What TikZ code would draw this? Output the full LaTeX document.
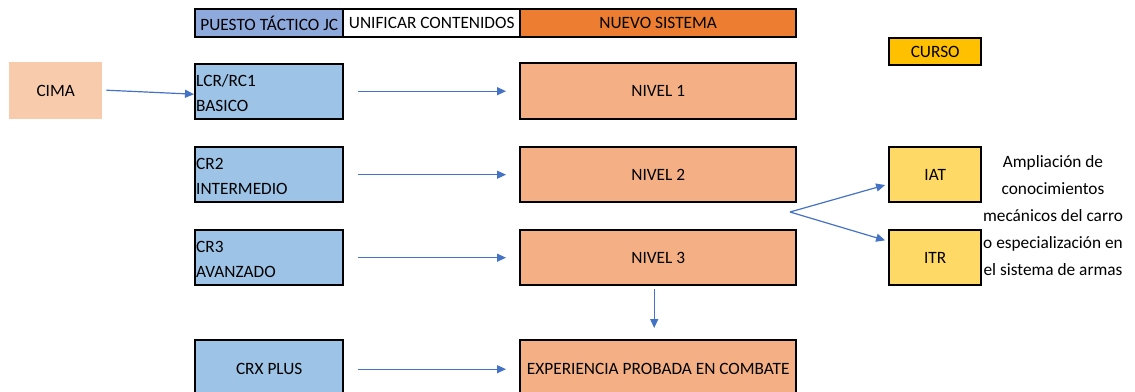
\documentclass[tikz,border=0pt]{standalone}
\usepackage{fontspec}
\setmainfont{Carlito}
\usetikzlibrary{arrows.meta,calc}
\definecolor{hdrblue}{HTML}{8EA9DB}
\definecolor{boxblue}{HTML}{9DC3E6}
\definecolor{hdrorange}{HTML}{ED7D31}
\definecolor{lvlorange}{HTML}{F4B084}
\definecolor{cimaorange}{HTML}{F8CBAD}
\definecolor{cursogold}{HTML}{FFC000}
\definecolor{courseyellow}{HTML}{FFD966}
\definecolor{arrowblue}{HTML}{4472C4}
\begin{document}
\begin{tikzpicture}[x=1pt,y=-1pt,
  every node/.style={font=\fontsize{17.3}{20}\selectfont, text=black},
  hdr/.style={draw=black, line width=2.4pt, inner sep=0pt, anchor=north west},
  bluebox/.style={draw=black, line width=2.4pt, fill=boxblue, anchor=north west, minimum width=148pt, minimum height=55pt, inner sep=0pt},
  lvlbox/.style={draw=black, line width=2.4pt, fill=lvlorange, anchor=north west, minimum width=276pt, minimum height=56pt, inner sep=0pt},
  yelbox/.style={draw=black, line width=2.4pt, fill=courseyellow, anchor=north west, minimum width=92pt, minimum height=55pt, inner sep=0pt},
  twoline/.style={anchor=west, align=left, inner sep=0pt, font=\fontsize{17.3}{25}\selectfont},
  conn/.style={draw=arrowblue, line width=1.2pt, -{Triangle[length=9pt,width=8pt]}},
  gapconn/.style={conn, shorten <=14pt, shorten >=13pt}
]
\useasboundingbox (0,0) rectangle (1135,391);

% header
\node[hdr, fill=hdrblue, minimum width=148pt, minimum height=28pt] (h1) at (194,8) {PUESTO TÁCTICO JC};
\node[hdr, fill=white, minimum width=177pt, minimum height=28pt] (h2) at (342,8) {UNIFICAR CONTENIDOS};
\node[hdr, fill=hdrorange, minimum width=276pt, minimum height=28pt] (h3) at (519,8) {NUEVO SISTEMA};

% CURSO
\node[hdr, fill=cursogold, minimum width=92pt, minimum height=27pt] (curso) at (888,37) {CURSO};

% CIMA
\node[fill=cimaorange, anchor=north west, minimum width=93pt, minimum height=57pt, inner sep=0pt] (cima) at (9,62) {CIMA};

% blue boxes
\node[bluebox] (b1) at (194,63) {};
\node[twoline] (t1) at (196,93.5) {LCR/RC1\\BASICO};
\node[bluebox] (b2) at (194,146) {};
\node[twoline] (t2) at (196,176.5) {CR2\\INTERMEDIO};
\node[bluebox] (b3) at (194,229) {};
\node[twoline] (t3) at (196,259.5) {CR3\\AVANZADO};
\node[bluebox, minimum height=58pt] (b4) at (194,339) {CRX PLUS};

% level boxes
\node[lvlbox] (n1) at (519,62) {NIVEL 1};
\node[lvlbox, minimum height=55pt] (n2) at (519,146) {NIVEL 2};
\node[lvlbox, minimum height=55pt] (n3) at (519,229) {NIVEL 3};
\node[lvlbox, minimum height=58pt] (exp) at (519,339) {EXPERIENCIA PROBADA EN COMBATE};

% course boxes
\node[yelbox] (iat) at (888,146) {IAT};
\node[yelbox] (itr) at (888,229) {ITR};

% description
\node[align=center, inner sep=0pt, font=\fontsize{17.3}{27}\selectfont] (desc) at (1053,216) {Ampliación de\\conocimientos\\mecánicos del carro\\o especialización en\\el sistema de armas};

% connectors
\coordinate (cs) at ($(cima.east)+(4,-0.5)$);
\draw[conn] (cs) -- ($(b1.west)+(0,2.5)$);
\draw[gapconn] (b1.east |- n1.west) -- (n1.west);
\draw[gapconn] (b2.east) -- (n2.west);
\draw[gapconn] (b3.east) -- (n3.west);
\draw[gapconn] (b4.east) -- (exp.west);
\draw[conn, shorten <=3pt, shorten >=11pt] ($(n3.south)+(-4,0)$) -- ($(exp.north)+(-4,0)$);
\coordinate (fork) at (790,212);
\draw[conn, shorten >=3pt] (fork) -- ($(iat.west)+(0,9.5)$);
\draw[conn, shorten >=3pt] (fork) -- ($(itr.west)+(0,-16.5)$);
\end{tikzpicture}
\end{document}
